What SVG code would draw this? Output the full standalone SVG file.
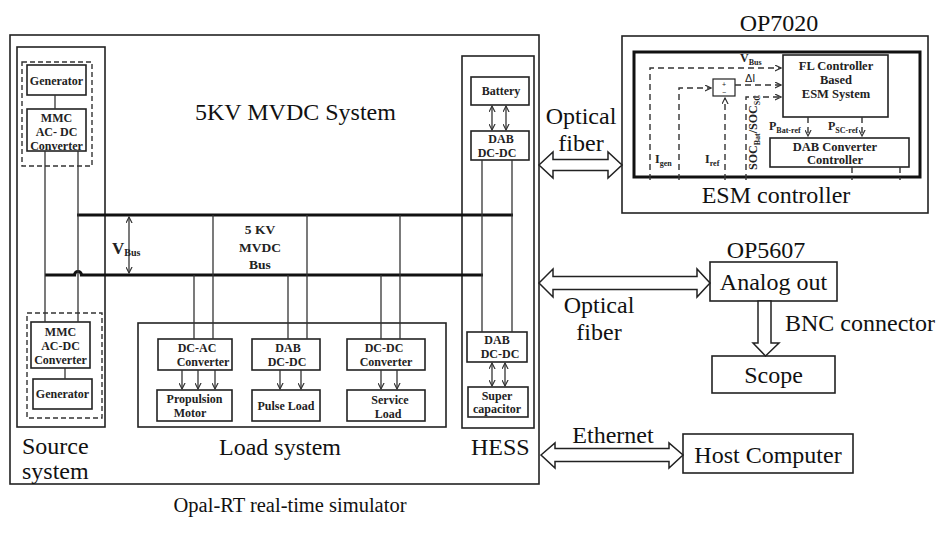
<svg xmlns="http://www.w3.org/2000/svg" width="948" height="534" viewBox="0 0 948 534">
<defs>
<style>
.bx{fill:none;stroke:#222;stroke-width:1.6}
.dbx{fill:none;stroke:#333;stroke-width:1.4;stroke-dasharray:5,3}
.ln{fill:none;stroke:#333;stroke-width:1.3}
.bus{fill:none;stroke:#111;stroke-width:3.2}
.dl{fill:none;stroke:#333;stroke-width:1.4;stroke-dasharray:6,4}
.big{font-family:"Liberation Serif","Times New Roman",serif;font-size:24px;fill:#111}
.sb{font-family:"Liberation Serif","Times New Roman",serif;font-size:12px;font-weight:bold;fill:#222;text-anchor:middle}
.sub{font-size:8px}
.ha{fill:#fff;stroke:#222;stroke-width:1.5}
</style>
<marker id="ar" viewBox="0 0 8 8" refX="7" refY="4" markerWidth="7" markerHeight="7" markerUnits="userSpaceOnUse" orient="auto-start-reverse">
<path d="M0,0.5 L7,4 L0,7.5" fill="none" stroke="#333" stroke-width="1.3"/>
</marker>
</defs>
<rect width="948" height="534" fill="#fff"/>

<g id="opal-rt">
<rect class="bx" x="10" y="35" width="529" height="449"/>
<text class="big" x="195" y="120">5KV MVDC System</text>
<text class="big" x="290" y="512" text-anchor="middle" style="font-size:20.5px">Opal-RT real-time simulator</text>
</g>

<g id="source-system">
<rect class="bx" x="17" y="47" width="88" height="380"/>
<rect class="dbx" x="22" y="62" width="70" height="104"/>
<rect class="bx" x="27" y="65" width="59" height="30"/>
<text class="sb" x="56.5" y="85">Generator</text>
<rect class="bx" x="27" y="109" width="59" height="42"/>
<text class="sb" x="56.5" y="122">MMC</text>
<text class="sb" x="56.5" y="136">AC- DC</text>
<text class="sb" x="56.5" y="150">Converter</text>
<line class="ln" x1="55" y1="95" x2="55" y2="109"/>
<rect class="dbx" x="27" y="313" width="75" height="105"/>
<rect class="bx" x="31" y="322" width="59" height="46"/>
<text class="sb" x="60.5" y="336">MMC</text>
<text class="sb" x="60.5" y="350">AC-DC</text>
<text class="sb" x="60.5" y="364">Converter</text>
<rect class="bx" x="33" y="379" width="59" height="30"/>
<text class="sb" x="62.5" y="398">Generator</text>
<line class="ln" x1="65" y1="368" x2="65" y2="379"/>
<text class="big" x="22" y="454">Source</text>
<text class="big" x="22" y="479">system</text>
</g>

<g id="load-system">
<rect class="bx" x="138" y="323" width="308" height="104"/>
<rect class="bx" x="158" y="339" width="74" height="31"/>
<text class="sb" x="197" y="352">DC-AC</text>
<text class="sb" x="203" y="366">Converter</text>
<rect class="bx" x="157" y="390" width="75" height="31"/>
<text class="sb" x="194.5" y="403">Propulsion</text>
<text class="sb" x="190" y="417">Motor</text>
<rect class="bx" x="252" y="339" width="68" height="31"/>
<text class="sb" x="288" y="352">DAB</text>
<text class="sb" x="287" y="366">DC-DC</text>
<rect class="bx" x="252" y="390" width="68" height="31"/>
<text class="sb" x="286" y="410">Pulse Load</text>
<rect class="bx" x="347" y="339" width="78" height="31"/>
<text class="sb" x="384" y="352">DC-DC</text>
<text class="sb" x="386" y="366">Converter</text>
<rect class="bx" x="347" y="390" width="78" height="31"/>
<text class="sb" x="390" y="404">Service</text>
<text class="sb" x="388" y="418">Load</text>
<text class="big" x="219" y="455">Load system</text>
</g>

<g id="hess">
<rect class="bx" x="462" y="56" width="72" height="372"/>
<rect class="bx" x="471" y="77" width="58" height="28"/>
<text class="sb" x="501" y="95">Battery</text>
<rect class="bx" x="471" y="131" width="58" height="29"/>
<text class="sb" x="501" y="143">DAB</text>
<text class="sb" x="497" y="157">DC-DC</text>
<rect class="bx" x="467" y="332" width="60" height="30"/>
<text class="sb" x="497" y="344">DAB</text>
<text class="sb" x="500" y="358">DC-DC</text>
<rect class="bx" x="468" y="387" width="60" height="30"/>
<text class="sb" x="497" y="400">Super</text>
<text class="sb" x="497" y="413">capacitor</text>
<text class="big" x="471" y="455">HESS</text>
</g>

<g id="esm-controller">
<rect class="bx" x="622" y="36" width="306" height="177"/>
<text class="big" x="779" y="31" text-anchor="middle">OP7020</text>
<rect fill="none" stroke="#111" stroke-width="3" x="634" y="52" width="286" height="125"/>
<rect class="bx" x="783" y="55" width="105" height="62"/>
<text class="sb" x="836" y="70" style="font-size:12.5px">FL Controller</text>
<text class="sb" x="836" y="84" style="font-size:12.5px">Based</text>
<text class="sb" x="836" y="98" style="font-size:12.5px">ESM System</text>
<rect class="bx" x="770" y="138" width="139" height="29"/>
<text class="sb" x="835" y="151" style="font-size:12.5px">DAB Converter</text>
<text class="sb" x="835" y="164" style="font-size:12.5px">Controller</text>
<rect class="bx" x="713" y="79" width="22" height="17" style="stroke-width:1.2"/>
<text x="724" y="87" text-anchor="middle" style="font-family:'Liberation Sans',sans-serif;font-size:7px;fill:#222">+</text>
<text x="724" y="95" text-anchor="middle" style="font-family:'Liberation Sans',sans-serif;font-size:7px;fill:#222">−</text>
<text class="sb" x="740" y="62" style="text-anchor:start">V<tspan class="sub" dy="3">Bus</tspan></text>
<text x="745" y="82" style="font-family:'Liberation Sans',sans-serif;font-size:11px;fill:#222">ΔI</text>
<text class="sb" x="655" y="163" style="text-anchor:start">I<tspan class="sub" dy="3">gen</tspan></text>
<text class="sb" x="705" y="163" style="text-anchor:start">I<tspan class="sub" dy="3">ref</tspan></text>
<text class="sb" x="769" y="130" style="text-anchor:start">P<tspan class="sub" dy="3">Bat-ref</tspan></text>
<text class="sb" x="828" y="130" style="text-anchor:start">P<tspan class="sub" dy="3">SC-ref</tspan></text>
<text class="sb" transform="translate(757,170) rotate(-90)" style="text-anchor:start">SOC<tspan class="sub" dy="3">Bat</tspan><tspan dy="-3">/SOC</tspan><tspan class="sub" dy="3">SC</tspan></text>
<text class="big" x="776" y="203" text-anchor="middle">ESM controller</text>
</g>

<g id="analog-out">
<text class="big" x="766" y="258" text-anchor="middle">OP5607</text>
<rect class="bx" x="710" y="262" width="127" height="39"/>
<text class="big" x="773.5" y="290" text-anchor="middle">Analog out</text>
</g>

<g id="scope">
<rect class="bx" x="712" y="356" width="123" height="37"/>
<text class="big" x="773.5" y="383" text-anchor="middle">Scope</text>
</g>

<g id="host-computer">
<rect class="bx" x="683" y="434" width="170" height="39"/>
<text class="big" x="768" y="463" text-anchor="middle">Host Computer</text>
</g>

<g id="connectors">
<line class="bus" x1="77" y1="215" x2="513" y2="215"/>
<path class="bus" d="M45,275 H74.5 A3.5,3.5 0 0 1 81.5,275 H483"/>
<line class="ln" x1="45" y1="151" x2="45" y2="322"/>
<line class="ln" x1="78" y1="151" x2="78" y2="322"/>
<line class="ln" x1="129" y1="217" x2="129" y2="273" marker-start="url(#ar)" marker-end="url(#ar)"/>
<text class="sb" x="112" y="254" style="text-anchor:start;font-size:17px">V<tspan style="font-size:10px" dy="2">Bus</tspan></text>
<text class="sb" x="260" y="234" style="font-size:13.5px">5 KV</text>
<text class="sb" x="260" y="252" style="font-size:13.5px">MVDC</text>
<text class="sb" x="260" y="269" style="font-size:13.5px">Bus</text>
<line class="ln" x1="194" y1="275" x2="194" y2="339"/>
<line class="ln" x1="213" y1="215" x2="213" y2="339"/>
<line class="ln" x1="288" y1="275" x2="288" y2="339"/>
<line class="ln" x1="307" y1="215" x2="307" y2="339"/>
<line class="ln" x1="381" y1="275" x2="381" y2="339"/>
<line class="ln" x1="400" y1="215" x2="400" y2="339"/>
<line class="ln" x1="182" y1="370" x2="182" y2="389" marker-end="url(#ar)"/>
<line class="ln" x1="198" y1="370" x2="198" y2="389" marker-end="url(#ar)"/>
<line class="ln" x1="215" y1="370" x2="215" y2="389" marker-end="url(#ar)"/>
<line class="ln" x1="280" y1="370" x2="280" y2="389" marker-end="url(#ar)"/>
<line class="ln" x1="301" y1="370" x2="301" y2="389" marker-end="url(#ar)"/>
<line class="ln" x1="381" y1="370" x2="381" y2="389" marker-end="url(#ar)"/>
<line class="ln" x1="397" y1="370" x2="397" y2="389" marker-end="url(#ar)"/>
<line class="ln" x1="482" y1="160" x2="482" y2="332"/>
<line class="ln" x1="512" y1="160" x2="512" y2="332"/>
<line class="ln" x1="492" y1="106" x2="492" y2="130" marker-start="url(#ar)" marker-end="url(#ar)"/>
<line class="ln" x1="506" y1="106" x2="506" y2="130" marker-start="url(#ar)" marker-end="url(#ar)"/>
<line class="ln" x1="492" y1="363" x2="492" y2="386" marker-start="url(#ar)" marker-end="url(#ar)"/>
<line class="ln" x1="505" y1="363" x2="505" y2="386" marker-start="url(#ar)" marker-end="url(#ar)"/>
<path class="dl" d="M650,180 V68 H781" marker-end="url(#ar)"/>
<path class="dl" d="M679,180 V88 H711" marker-end="url(#ar)"/>
<path class="dl" d="M725,180 V98" marker-end="url(#ar)"/>
<path class="dl" d="M735,85 H781" marker-end="url(#ar)"/>
<path class="dl" d="M746,180 V97 H781" marker-end="url(#ar)"/>
<path class="dl" d="M808,117 V136" marker-end="url(#ar)"/>
<path class="dl" d="M862,117 V136" marker-end="url(#ar)"/>
<path class="dl" d="M852,167 V180"/>
<path class="dl" d="M900,167 V180"/>
<polygon class="ha" points="539,165 553,152 553,159.5 608,159.5 608,152 622,165 608,178 608,170.5 553,170.5 553,178"/>
<text class="big" x="581" y="124" text-anchor="middle">Optical</text>
<text class="big" x="581" y="151" text-anchor="middle">fiber</text>
<polygon class="ha" points="539,283 553,269 553,276.5 697,276.5 697,269 710,283 697,297 697,289.5 553,289.5 553,297"/>
<text class="big" x="599" y="313" text-anchor="middle">Optical</text>
<text class="big" x="599" y="340" text-anchor="middle">fiber</text>
<polygon class="ha" points="541,455 555,443 555,448.5 669,448.5 669,443 683,455 669,468 669,461.5 555,461.5 555,468"/>
<text class="big" x="613" y="443" text-anchor="middle">Ethernet</text>
<polygon class="ha" points="758,301 771,301 771,343 779,343 765.5,356 753,343 758,343"/>
<text class="big" x="785" y="331">BNC connector</text>
</g>
</svg>
